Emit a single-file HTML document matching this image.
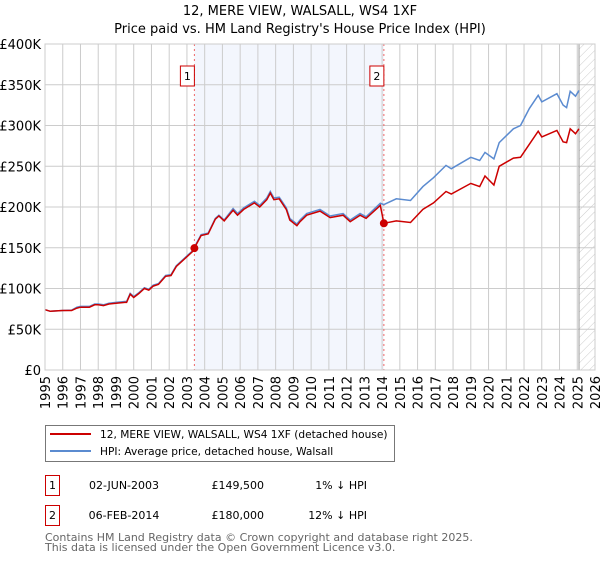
<!DOCTYPE html>
<html><head><meta charset="utf-8"><style>
body{margin:0;background:#fff;font-family:"DejaVu Sans","Liberation Sans",sans-serif;}
svg text{font-family:"DejaVu Sans","Liberation Sans",sans-serif;}
</style></head><body>
<svg id="chart" width="600" height="560" xmlns="http://www.w3.org/2000/svg"></svg>
<script>
const hpiYears=[1995.0,1995.3,1996.0,1996.5,1996.8,1997.0,1997.5,1997.8,1998.0,1998.3,1998.6,1999.0,1999.5,1999.6,1999.8,2000.0,2000.3,2000.6,2000.85,2001.1,2001.4,2001.8,2002.1,2002.4,2002.9,2003.3,2003.6,2003.8,2004.2,2004.6,2004.8,2005.1,2005.6,2005.85,2006.2,2006.8,2007.1,2007.5,2007.7,2007.9,2008.2,2008.6,2008.8,2009.2,2009.37,2009.75,2010.5,2011.07,2011.8,2012.2,2012.76,2013.1,2013.9,2014.1,2014.8,2015.6,2016.3,2016.9,2017.6,2017.9,2019.0,2019.5,2019.8,2020.3,2020.6,2021.4,2021.8,2022.3,2022.8,2023.0,2023.85,2024.2,2024.4,2024.6,2024.9,2025.1];
const hpiValues=[74,72,73,73.5,77,78,78,81,81,80,82,83,84,84,94,90,95,101,99,104,106,116,117,128,138,146,158,166,168,186,190,184,198,192,199,207,202,211,219,211,212,199,186,179,184,192,197,189,192,184,192,188,204.5,203,210,208,225,236,251,247,261,257,267,259,279,296,300,321,337,329,339,325,322,342,336,343];
const priceYears=[1995.0,1995.3,1996.0,1996.5,1996.8,1997.0,1997.5,1997.8,1998.0,1998.3,1998.6,1999.0,1999.5,1999.6,1999.8,2000.0,2000.3,2000.6,2000.85,2001.1,2001.4,2001.8,2002.1,2002.4,2002.9,2003.3,2003.6,2003.8,2004.2,2004.6,2004.8,2005.1,2005.6,2005.85,2006.2,2006.8,2007.1,2007.5,2007.7,2007.9,2008.2,2008.6,2008.8,2009.2,2009.37,2009.75,2010.5,2011.07,2011.8,2012.2,2012.76,2013.1,2013.9,2014.1,2014.8,2015.6,2016.3,2016.9,2017.6,2017.9,2019.0,2019.5,2019.8,2020.3,2020.6,2021.4,2021.8,2022.3,2022.8,2023.0,2023.85,2024.2,2024.4,2024.6,2024.9,2025.1];
const priceValues=[74,72,73,73,76,77,77,80,80,79,81,82,83,83,93,89,94,100,98,103,105,115,116,127,137,145,157,165,167,185,189,183,196,190,197,205,200,209,217,209,210,197,184,177,182,190,195,187,190,182,190,186,202,180,183,181,197,205,219,216,229,225,238,227,250,260,261,277,293,286,294,280,279,296,290,296];
const sales=[{n:"1",year:2003.42,value:149.5},{n:"2",year:2014.1,value:180}];
const yTicks=[0,50,100,150,200,250,300,350,400];
const yTickLabels=["£0","£50K","£100K","£150K","£200K","£250K","£300K","£350K","£400K"];
const xTicks=[1995,1996,1997,1998,1999,2000,2001,2002,2003,2004,2005,2006,2007,2008,2009,2010,2011,2012,2013,2014,2015,2016,2017,2018,2019,2020,2021,2022,2023,2024,2025,2026];

const svg=document.getElementById('chart');
const NS="http://www.w3.org/2000/svg";
const L=45,R=595,T=44,B=370;
const xS=y=>L+(y-1995)/(2026-1995)*(R-L);
const yS=v=>B-v/400*(B-T);
function mk(tag,attrs,parent){const e=document.createElementNS(NS,tag);for(const k in attrs)e.setAttribute(k,attrs[k]);(parent||svg).appendChild(e);return e;}

const defs=mk('defs',{});
const pat=mk('pattern',{id:'hatch',width:6,height:6,patternUnits:'userSpaceOnUse',patternTransform:'rotate(45)'},defs);
mk('line',{x1:0,y1:0,x2:0,y2:6,stroke:'#ccc','stroke-width':1},pat);

let t=mk('text',{x:300,y:15,'text-anchor':'middle','font-size':13,fill:'#000'});t.textContent="12, MERE VIEW, WALSALL, WS4 1XF";


t=mk('text',{x:300,y:33,'text-anchor':'middle','font-size':13,fill:'#000'});t.textContent="Price paid vs. HM Land Registry's House Price Index (HPI)";



let r=mk('rect',{x:xS(sales[0].year),y:T,width:xS(sales[1].year)-xS(sales[0].year),height:B-T,fill:'#eef2fc',opacity:0.7});


r=mk('rect',{x:xS(2025.1),y:T,width:R-xS(2025.1),height:B-T,fill:'url(#hatch)'});



yTicks.forEach((v,i)=>{
  const g=mk('line',{x1:L,x2:R,y1:yS(v),y2:yS(v),stroke:'#ccc','stroke-width':1});
  
  
  const lb=mk('text',{x:L-4,y:yS(v)+5,'text-anchor':'end','font-size':13,fill:'#000'});
  lb.textContent=yTickLabels[i];
  
  
});
xTicks.forEach(y=>{
  const g=mk('line',{x1:xS(y),x2:xS(y),y1:T,y2:B,stroke:'#ccc','stroke-width':1});
  
  
  const lb=mk('text',{x:0,y:0,'text-anchor':'end','font-size':13,fill:'#000',transform:`translate(${xS(y)+5},${B+6}) rotate(-90)`});
  lb.textContent=y;
  
  
});
let ln=mk('line',{x1:xS(2025.1),x2:xS(2025.1),y1:T,y2:B,stroke:'#999','stroke-width':1});



sales.forEach(s=>{
  const vl=mk('line',{x1:xS(s.year),x2:xS(s.year),y1:T,y2:B,stroke:'#e66','stroke-width':1,'stroke-dasharray':'2,3'});
  
  
  const bx=mk('rect',{x:xS(s.year)-14,y:66,width:14,height:20,fill:'#fff',stroke:'#c00','stroke-width':1});
  
  
  const tx=mk('text',{x:xS(s.year)-7,y:80,'text-anchor':'middle','font-size':11,fill:'#000'});
  tx.textContent=s.n;
  
  
});

const hp=mk('path',{d:hpiYears.map((y,i)=>(i?'L':'M')+xS(y).toFixed(1)+','+yS(hpiValues[i]).toFixed(1)).join(''),fill:'none',stroke:'#5b8bd0','stroke-width':1.5});


const pp=mk('path',{d:priceYears.map((y,i)=>(i?'L':'M')+xS(y).toFixed(1)+','+yS(priceValues[i]).toFixed(1)).join(''),fill:'none',stroke:'#cc0000','stroke-width':1.5});


sales.forEach(s=>{
  const c=mk('circle',{cx:xS(s.year),cy:yS(s.value),r:4,fill:'#cc0000'});
  
  
});
r=mk('rect',{x:L,y:T,width:R-L,height:B-T,fill:'none',stroke:'#ccc'});



const lg=mk('g',{});


mk('rect',{x:45.5,y:425.5,width:349,height:36,fill:'#fff',stroke:'#777'},lg);
let l1=mk('line',{x1:50,x2:91,y1:434,y2:434,stroke:'#cc0000','stroke-width':2},lg);


t=mk('text',{x:100,y:438,'font-size':10.6,fill:'#000'},lg);t.textContent="12, MERE VIEW, WALSALL, WS4 1XF (detached house)";


l1=mk('line',{x1:50,x2:91,y1:451,y2:451,stroke:'#5b8bd0','stroke-width':2},lg);


t=mk('text',{x:100,y:455,'font-size':10.6,fill:'#000'},lg);t.textContent="HPI: Average price, detached house, Walsall";



const rows=[["1","02-JUN-2003","£149,500","1% ↓ HPI"],["2","06-FEB-2014","£180,000","12% ↓ HPI"]];
rows.forEach((rw,i)=>{
  const y0=475+i*30;
  const b=mk('rect',{x:45.5,y:y0+0.5,width:14,height:20,fill:'#fff',stroke:'#c00'});
  
  
  let tt=mk('text',{x:52.5,y:y0+14,'text-anchor':'middle','font-size':11});tt.textContent=rw[0];
  
  
  tt=mk('text',{x:124,y:y0+14,'text-anchor':'middle','font-size':11});tt.textContent=rw[1];
  
  
  tt=mk('text',{x:264,y:y0+14,'text-anchor':'end','font-size':11});tt.textContent=rw[2];
  
  
  tt=mk('text',{x:367,y:y0+14,'text-anchor':'end','font-size':11});tt.textContent=rw[3];
  
  
});
t=mk('text',{x:45,y:541,'font-size':11,fill:'#666'});t.textContent="Contains HM Land Registry data © Crown copyright and database right 2025.";


t=mk('text',{x:45,y:551,'font-size':11,fill:'#666'});t.textContent="This data is licensed under the Open Government Licence v3.0.";


</script>
</body></html>
